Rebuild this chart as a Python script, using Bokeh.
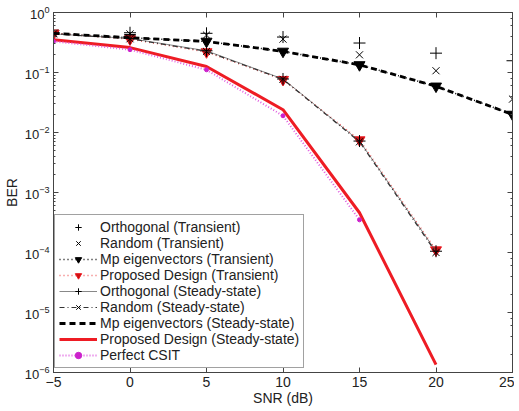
from bokeh.plotting import figure
from bokeh.models import (Legend, LegendItem, LinearAxis, LogAxis, FixedTicker, Range1d,
                          CustomJSTickFormatter)
from bokeh.embed import file_html
from bokeh.resources import INLINE

snr = [-5, 0, 5, 10, 15, 20, 25]
snr_low = [-5, 0, 5, 10, 15, 20]
snr_csit = [-5, 0, 5, 10, 15]

orth_transient = [0.46, 0.46, 0.45, 0.39, 0.31, 0.21, 0.157]
random_transient = [0.45, 0.44, 0.42, 0.36, 0.197, 0.107, 0.036]
mp_transient = [0.45, 0.38, 0.33, 0.225, 0.134, 0.059, 0.020]
proposed_transient = [0.45, 0.36, 0.22, 0.076, 0.0075, 1.1e-4]
orth_steady = [0.44, 0.37, 0.23, 0.078, 0.0072, 1.05e-4]
random_steady = [0.44, 0.365, 0.225, 0.077, 0.0070, 1.0e-4]
mp_steady = [0.45, 0.38, 0.33, 0.225, 0.134, 0.059, 0.020]
proposed_steady = [0.35, 0.26, 0.126, 0.024, 4.6e-4, 1.35e-6]
perfect_csit = [0.33, 0.24, 0.111, 0.019, 3.5e-4]

FONT = "Liberation Sans"

p = figure(x_range=Range1d(-5, 25), y_range=Range1d(1e-6, 1),
           y_axis_type="log", output_backend="svg", toolbar_location=None,
           min_border_left=47, min_border_right=2, min_border_top=12, min_border_bottom=2)
p.frame_width = 459
p.frame_height = 360
p.xgrid.visible = False
p.ygrid.visible = False
p.outline_line_color = "#444444"
p.background_fill_color = "white"
p.border_fill_color = "white"

r1 = p.scatter(snr, orth_transient, marker="cross", size=12, line_color="black", line_width=1)
r2 = p.scatter(snr, random_transient, marker="x", size=10, line_color="black", line_width=1)
r3l = p.line(snr, mp_transient, line_color="black", line_dash="1 3", line_width=1.5)
r3m = p.scatter(snr, mp_transient, marker="inverted_triangle", size=11, line_color="black", fill_color="black")
r4l = p.line(snr_low, proposed_transient, line_color="#f06060", line_dash="1 3", line_width=1.5)
r4m = p.scatter(snr_low, proposed_transient, marker="inverted_triangle", size=11, line_color="#ee1c24", fill_color="#cc1111")
r5l = p.line(snr_low, orth_steady, line_color="#555555", line_width=0.7)
r5m = p.scatter(snr_low, orth_steady, marker="cross", size=12, line_color="black", line_width=1)
r6l = p.line(snr_low, random_steady, line_color="#333333", line_dash="5 3 1 3", line_width=1.2)
r6m = p.scatter(snr_low, random_steady, marker="x", size=10, line_color="black", line_width=1)
r7 = p.line(snr, mp_steady, line_color="black", line_dash="6 4", line_width=2.8)
r8 = p.line(snr_low, proposed_steady, line_color="#ee1c24", line_width=3)
r9l = p.line(snr_csit, perfect_csit, line_color="#e060e0", line_dash="1 2", line_width=2)
r9m = p.scatter(snr_csit, perfect_csit, marker="circle", size=4, line_color="#cc22cc", fill_color="#cc22cc")

xa = p.xaxis[0]
xa.ticker = FixedTicker(ticks=snr)
xa.axis_label = "SNR (dB)"
ya = p.yaxis[0]
ya.axis_label = "BER"
for ax in (xa, ya):
    ax.major_label_text_font = FONT
    ax.major_label_text_font_size = "14px"
    ax.major_label_text_color = "#222222"
    ax.axis_label_text_font = FONT
    ax.axis_label_text_font_size = "14px"
    ax.axis_label_text_font_style = "normal"
    ax.axis_label_text_color = "#222222"
    ax.axis_line_color = "#444444"
    ax.major_tick_line_color = "#444444"
    ax.major_tick_in = 5
    ax.major_tick_out = 0
    ax.minor_tick_in = 2
    ax.minor_tick_out = 0
    ax.minor_tick_line_color = "#444444"
    ax.major_label_standoff = 4
    ax.axis_label_standoff = 0
xa.minor_tick_line_color = None
ya.major_label_text_font_size = "13px"
ya.axis_label_standoff = 2

blank = CustomJSTickFormatter(code="return '';")
top = LinearAxis(ticker=FixedTicker(ticks=snr), formatter=blank,
                 major_tick_in=5, major_tick_out=0, minor_tick_line_color=None,
                 axis_line_color="#444444", major_tick_line_color="#444444", major_label_standoff=0)
right = LogAxis(formatter=CustomJSTickFormatter(code="return '';"), major_tick_in=5, major_tick_out=0,
                minor_tick_in=2, minor_tick_out=0, axis_line_color="#444444",
                major_tick_line_color="#444444", minor_tick_line_color="#444444", major_label_standoff=0)
p.add_layout(top, "above")
p.add_layout(right, "right")

items = [
    LegendItem(label="Orthogonal (Transient)", renderers=[r1]),
    LegendItem(label="Random (Transient)", renderers=[r2]),
    LegendItem(label="Mp eigenvectors (Transient)", renderers=[r3l, r3m]),
    LegendItem(label="Proposed Design (Transient)", renderers=[r4l, r4m]),
    LegendItem(label="Orthogonal (Steady-state)", renderers=[r5l, r5m]),
    LegendItem(label="Random (Steady-state)", renderers=[r6l, r6m]),
    LegendItem(label="Mp eigenvectors (Steady-state)", renderers=[r7]),
    LegendItem(label="Proposed Design (Steady-state)", renderers=[r8]),
    LegendItem(label="Perfect CSIT", renderers=[r9l, r9m]),
]
legend = Legend(items=items, location=(1, 4), label_text_font=FONT, label_text_font_size="14px",
                label_text_color="#222222", label_height=16, glyph_height=16, glyph_width=38,
                spacing=0, padding=4, margin=0, label_standoff=3,
                border_line_color="#444444", border_line_width=1, background_fill_alpha=1)
p.add_layout(legend, "center")

open("out.html", "w").write(file_html(p, INLINE))
